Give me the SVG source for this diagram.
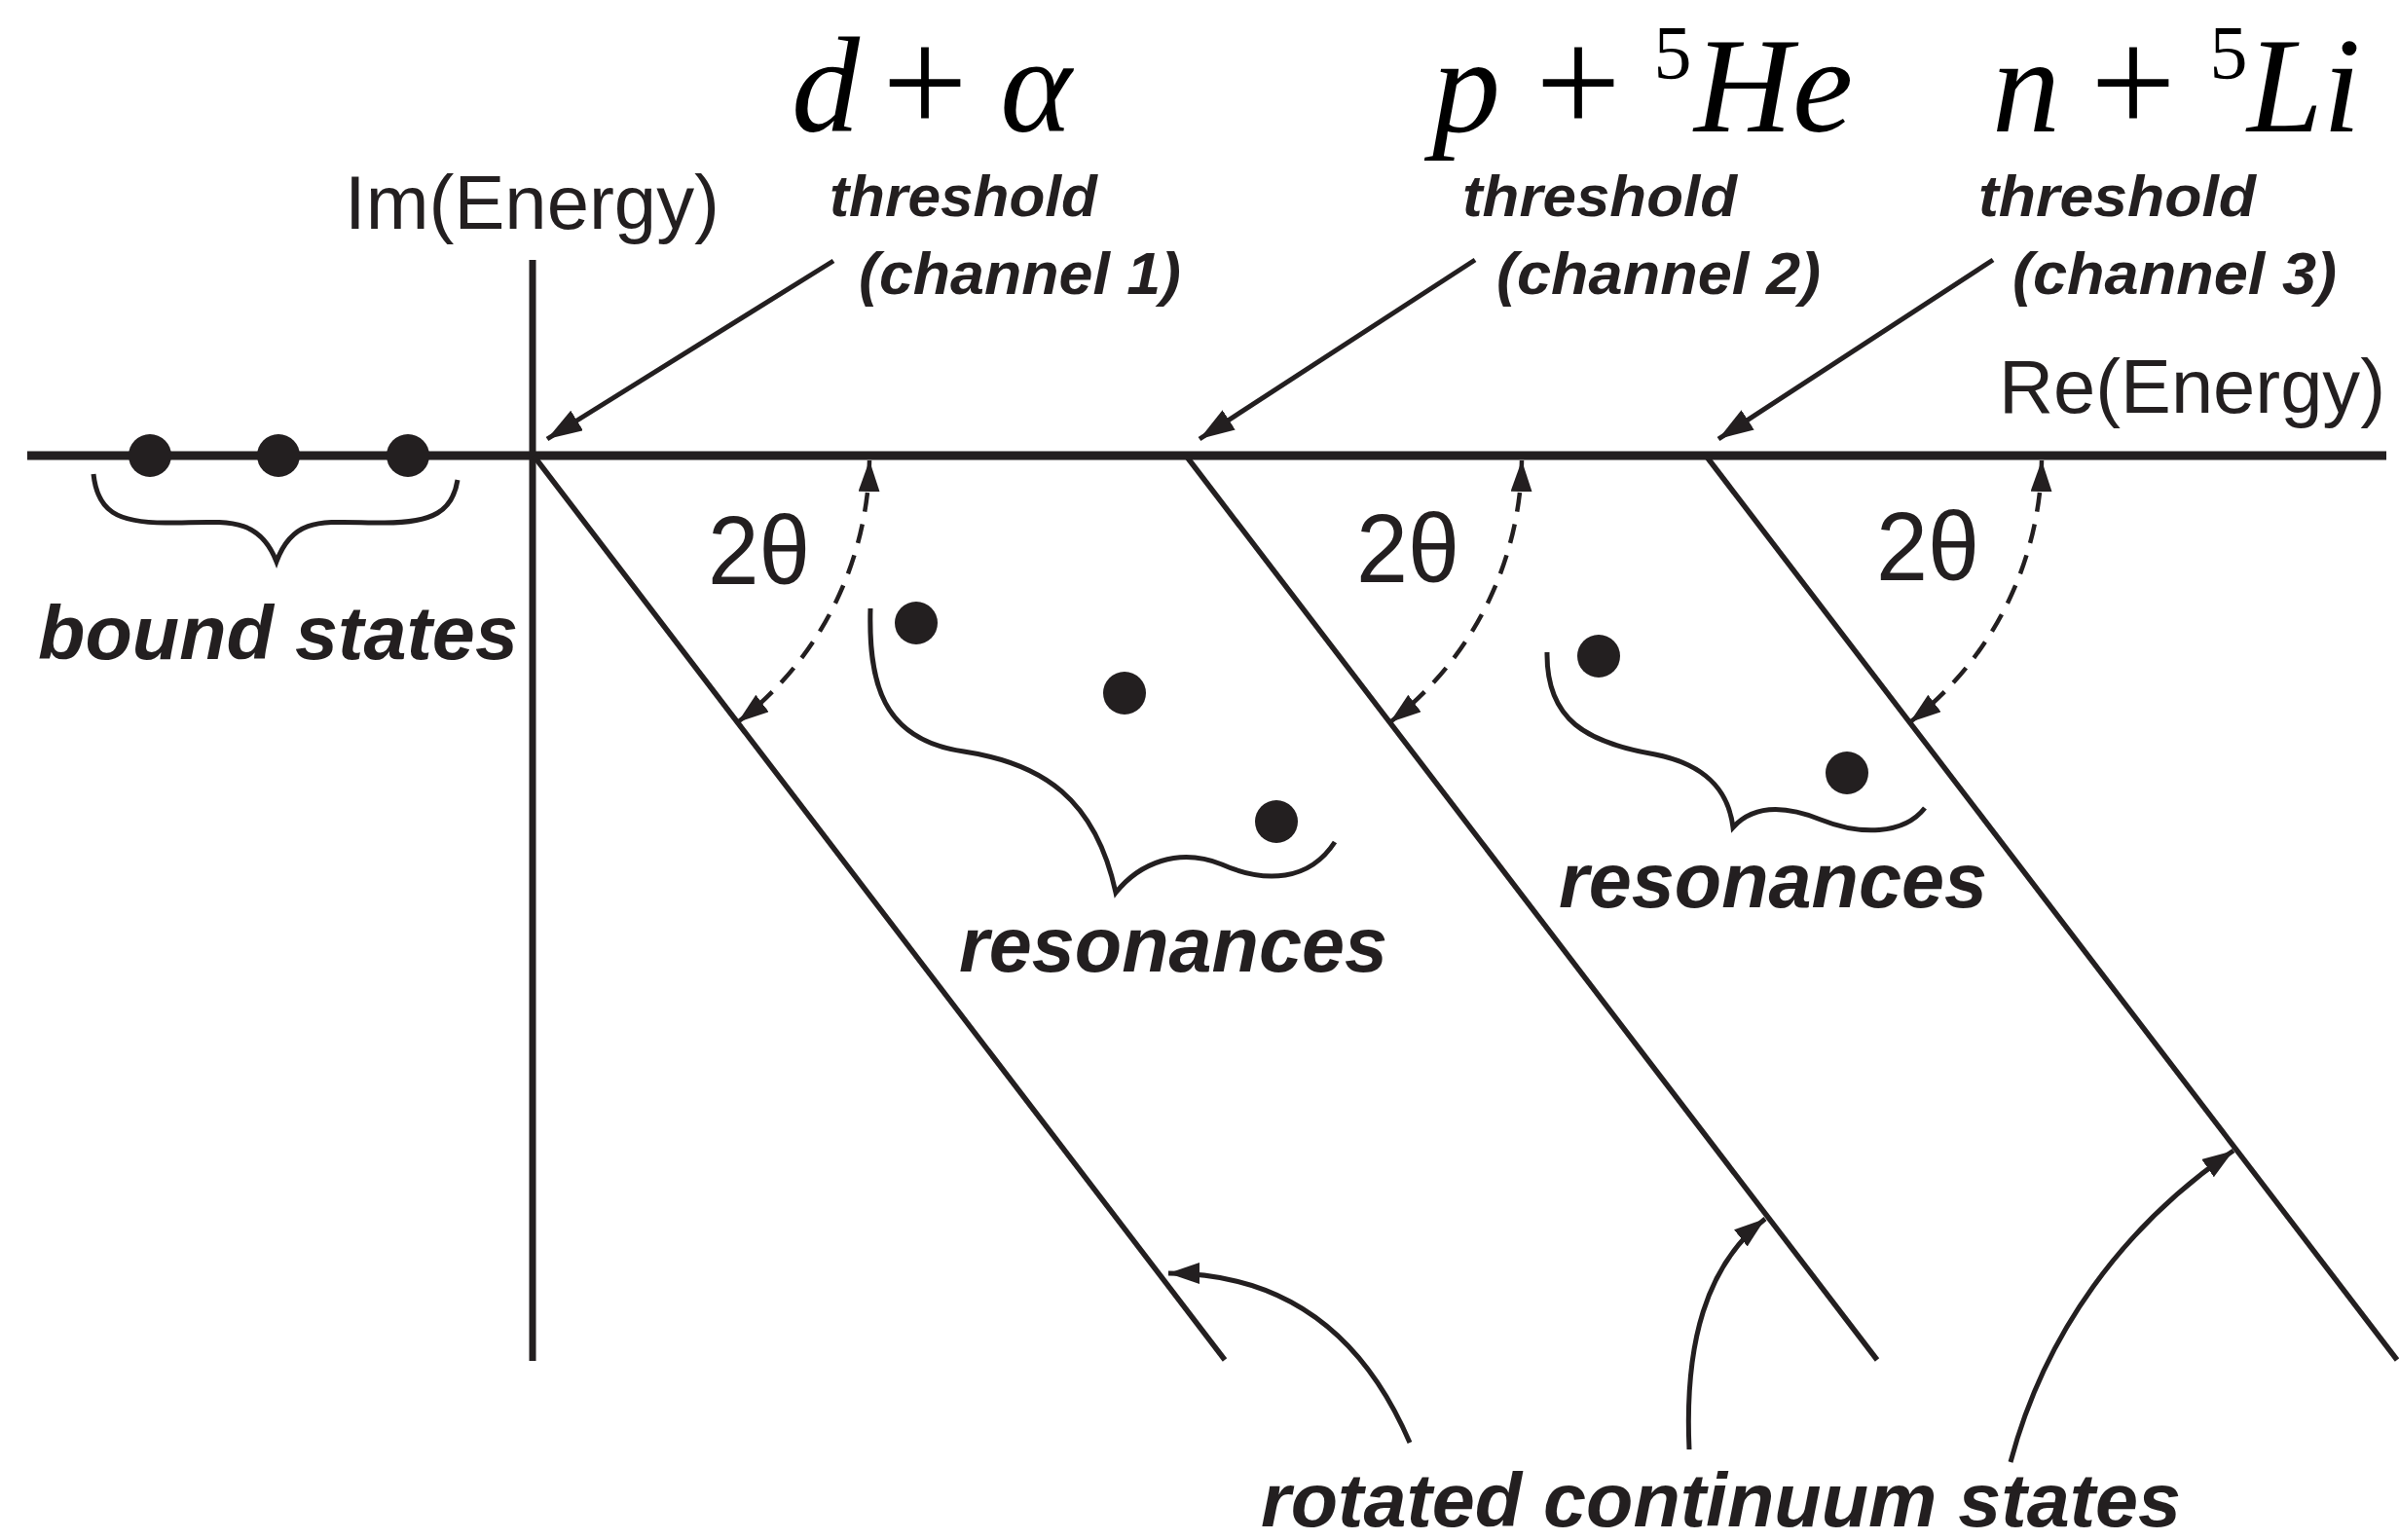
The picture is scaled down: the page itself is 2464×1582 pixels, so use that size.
<svg xmlns="http://www.w3.org/2000/svg" width="2464" height="1582" viewBox="0 0 2464 1582">
<style>
.ln{stroke:#231f20;fill:none;stroke-linecap:butt}
.ax{stroke-width:9}
.vax{stroke-width:7}
.dg{stroke-width:5.5}
.ar{stroke-width:5}
.dash{stroke-width:4.5;stroke-dasharray:20 13}
.br{stroke-width:5;stroke-linejoin:miter}
.dot{fill:#231f20}
.lab{font-family:"Liberation Sans",Arial,sans-serif;font-weight:bold;font-style:italic;fill:#231f20}
.reg{font-family:"Liberation Sans",Arial,sans-serif;fill:#231f20}
.math{font-family:"Liberation Serif","Times New Roman",serif;fill:#000}
</style>
<defs>
<marker id="ah" markerUnits="userSpaceOnUse" markerWidth="40" markerHeight="30" refX="36" refY="12" orient="auto-start-reverse">
<path d="M0,0 L36,12 L0,24 z" fill="#231f20" stroke="none"/>
</marker>
<marker id="ahs" markerUnits="userSpaceOnUse" markerWidth="34" markerHeight="26" refX="32" refY="11" orient="auto-start-reverse">
<path d="M0,0 L32,11 L0,22 z" fill="#231f20" stroke="none"/>
</marker>
</defs>

<g id="formulas">
<text class="math" font-style="italic" font-size="140" x="848" y="135" text-anchor="middle">d</text>
<text class="math" font-size="156" x="950" y="137" text-anchor="middle">+</text>
<text class="math" font-style="italic" font-size="140" x="1064" y="135" text-anchor="middle">α</text>
<text class="math" font-style="italic" font-size="140" x="1506" y="135" text-anchor="middle">p</text>
<text class="math" font-size="156" x="1621" y="137" text-anchor="middle">+</text>
<text class="math" font-size="78" x="1718" y="80" text-anchor="middle">5</text>
<text class="math" font-style="italic" font-size="140" x="1740" y="135">He</text>
<text class="math" font-style="italic" font-size="140" x="2081" y="135" text-anchor="middle">n</text>
<text class="math" font-size="156" x="2191" y="137" text-anchor="middle">+</text>
<text class="math" font-size="78" x="2289" y="80" text-anchor="middle">5</text>
<text class="math" font-style="italic" font-size="140" x="2308" y="135">Li</text>
</g>

<g id="axes">
<line class="ln ax" x1="28" y1="468" x2="2451" y2="468"/>
<line class="ln vax" x1="547" y1="267" x2="547" y2="1398"/>
<text class="reg" font-size="77" x="354" y="235" textLength="385" lengthAdjust="spacingAndGlyphs">Im(Energy)</text>
<text class="reg" font-size="77" x="2053" y="424" textLength="397" lengthAdjust="spacingAndGlyphs">Re(Energy)</text>
</g>

<g id="bound-states">
<circle class="dot" cx="154" cy="468" r="22"/>
<circle class="dot" cx="286" cy="468" r="22"/>
<circle class="dot" cx="419" cy="468" r="22"/>
<path class="ln br" d="M96,487 C100,525 120,537 170,537 C230,537 265,528 284,577 C302,528 335,537 395,537 C445,537 465,525 470,493"/>
<text class="lab" font-size="78" x="39" y="677" textLength="493" lengthAdjust="spacingAndGlyphs">bound states</text>
</g>

<g id="channel1">
<text class="lab" font-size="60" x="852" y="222" textLength="275" lengthAdjust="spacingAndGlyphs">threshold</text>
<text class="lab" font-size="62" x="882" y="302" textLength="331" lengthAdjust="spacingAndGlyphs">(channel 1)</text>
<text class="reg" font-size="100" x="727" y="600" textLength="105" lengthAdjust="spacingAndGlyphs">2θ</text>
</g>
<g id="channel2">
<text class="lab" font-size="60" x="1502" y="222" textLength="282" lengthAdjust="spacingAndGlyphs">threshold</text>
<text class="lab" font-size="62" x="1537" y="302" textLength="333" lengthAdjust="spacingAndGlyphs">(channel 2)</text>
<text class="reg" font-size="100" x="1393" y="598" textLength="106" lengthAdjust="spacingAndGlyphs">2θ</text>
</g>
<g id="channel3">
<text class="lab" font-size="60" x="2032" y="222" textLength="285" lengthAdjust="spacingAndGlyphs">threshold</text>
<text class="lab" font-size="62" x="2067" y="302" textLength="333" lengthAdjust="spacingAndGlyphs">(channel 3)</text>
<text class="reg" font-size="100" x="1927" y="596" textLength="106" lengthAdjust="spacingAndGlyphs">2θ</text>
</g>

<g id="resonances1">
<circle class="dot" cx="941" cy="640" r="22"/>
<circle class="dot" cx="1155" cy="712" r="22"/>
<circle class="dot" cx="1311" cy="844" r="22"/>
<path class="ln br" d="M894,625 C892,700 905,760 990,772 C1070,784 1125,820 1146,917 C1170,887 1210,870 1255,888 C1300,908 1345,905 1371,865"/>
<text class="lab" font-size="80" x="985" y="998" textLength="440" lengthAdjust="spacingAndGlyphs">resonances</text>
</g>
<g id="resonances2">
<circle class="dot" cx="1642" cy="674" r="22"/>
<circle class="dot" cx="1897" cy="794" r="22"/>
<path class="ln br" d="M1589,670 C1588,740 1630,763 1700,775 C1750,785 1775,810 1780,850 C1800,828 1830,826 1870,842 C1910,858 1955,858 1977,830"/>
<text class="lab" font-size="80" x="1601" y="932" textLength="440" lengthAdjust="spacingAndGlyphs">resonances</text>
</g>

<g id="continuum">
<text class="lab" font-size="78" x="1295" y="1568" textLength="945" lengthAdjust="spacingAndGlyphs">rotated continuum states</text>
</g>

<g id="connectors">
<line class="ln dg" x1="548" y1="468" x2="1258" y2="1397"/>
<line class="ln dg" x1="1218" y1="468" x2="1928" y2="1397"/>
<line class="ln dg" x1="1752" y1="468" x2="2462" y2="1397"/>
<line class="ln ar" x1="856" y1="268" x2="562" y2="451" marker-end="url(#ah)"/>
<line class="ln ar" x1="1515" y1="267" x2="1232" y2="451" marker-end="url(#ah)"/>
<line class="ln ar" x1="2047" y1="267" x2="1765" y2="451" marker-end="url(#ah)"/>
<path class="ln dash" d="M893,473 A345,345 0 0,1 757.6,742" marker-start="url(#ahs)" marker-end="url(#ahs)"/>
<path class="ln dash" d="M1563,473 A345,345 0 0,1 1427.6,742" marker-start="url(#ahs)" marker-end="url(#ahs)"/>
<path class="ln dash" d="M2097,473 A345,345 0 0,1 1961.6,742" marker-start="url(#ahs)" marker-end="url(#ahs)"/>
<path class="ln ar" d="M1448,1482 C1400,1370 1320,1308 1200,1308" marker-end="url(#ahs)"/>
<path class="ln ar" d="M1735,1489 C1730,1380 1752,1300 1813,1252" marker-end="url(#ahs)"/>
<path class="ln ar" d="M2065,1502 C2100,1370 2180,1260 2294,1182" marker-end="url(#ahs)"/>
</g>
</svg>
